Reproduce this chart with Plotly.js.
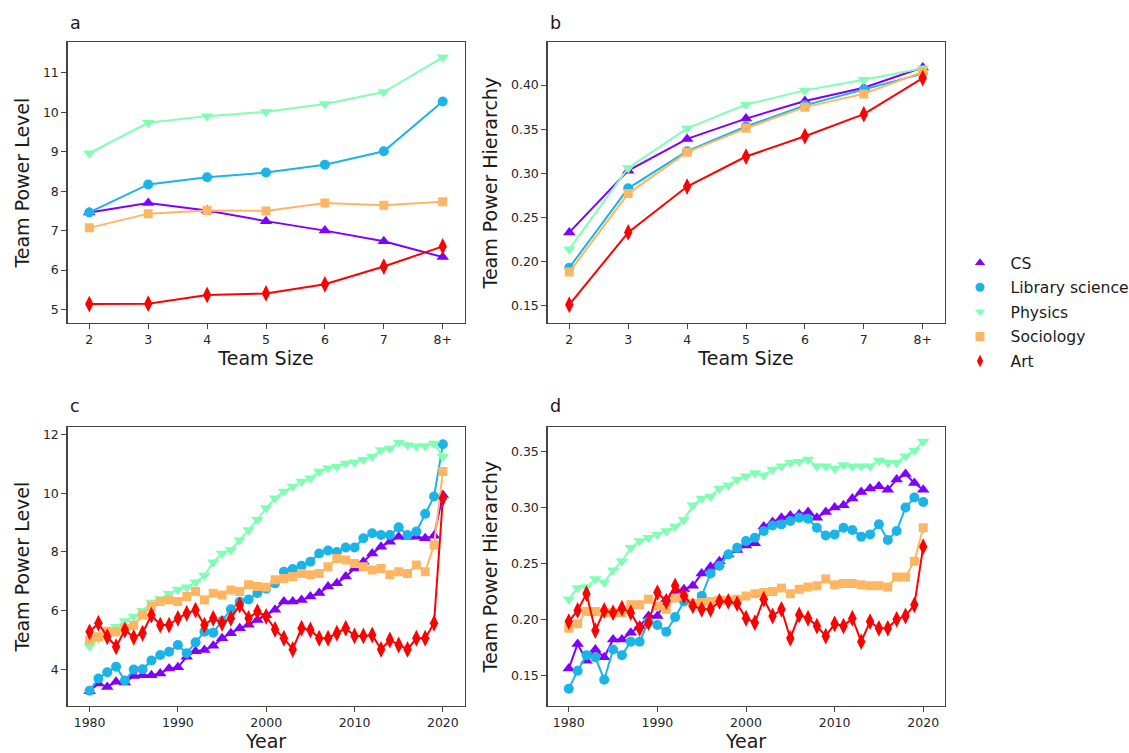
<!DOCTYPE html>
<html>
<head>
<meta charset="utf-8">
<script src="https://cdn.plot.ly/plotly-3.0.1.min.js"></script>
<style>html,body{margin:0;padding:0;background:#fff;}#chart{width:1129px;height:753px;}</style>
</head>
<body>
<div id="chart"></div>
<script>
// ---------- data ----------
var seriesNames = ['CS', 'Library science', 'Physics', 'Sociology', 'Art'];
var teamSizes = ['2', '3', '4', '5', '6', '7', '8+'];
var years = [1980,1981,1982,1983,1984,1985,1986,1987,1988,1989,1990,1991,1992,1993,1994,1995,1996,1997,1998,1999,2000,
             2001,2002,2003,2004,2005,2006,2007,2008,2009,2010,2011,2012,2013,2014,2015,2016,2017,2018,2019,2020];
var yearTicks = [1980, 1990, 2000, 2010, 2020];

// panel a: Team Power Level vs team size
var aCS  = [7.46, 7.70, 7.51, 7.24, 7.00, 6.73, 6.33];
var aLIB = [7.46, 8.17, 8.35, 8.47, 8.67, 9.01, 10.27];
var aPHY = [8.96, 9.73, 9.90, 10.01, 10.21, 10.51, 11.39];
var aSOC = [7.07, 7.43, 7.51, 7.50, 7.70, 7.64, 7.73];
var aART = [5.14, 5.15, 5.37, 5.41, 5.64, 6.09, 6.60];

// panel b: Team Power Hierarchy vs team size
var bCS  = [0.233, 0.303, 0.339, 0.362, 0.382, 0.397, 0.420];
var bLIB = [0.193, 0.283, 0.325, 0.353, 0.377, 0.395, 0.413];
var bPHY = [0.214, 0.306, 0.351, 0.378, 0.394, 0.406, 0.419];
var bSOC = [0.188, 0.277, 0.324, 0.351, 0.375, 0.390, 0.415];
var bART = [0.151, 0.233, 0.285, 0.319, 0.342, 0.367, 0.408];

// panel c: Team Power Level vs year
var cCS  = [3.25,3.52,3.40,3.58,3.55,3.77,3.80,3.80,3.86,4.03,4.07,4.43,4.62,4.66,4.80,5.06,5.23,5.40,5.52,5.68,5.85,
            6.03,6.31,6.31,6.36,6.48,6.60,6.82,6.93,7.16,7.44,7.67,7.95,8.18,8.35,8.52,8.52,8.52,8.47,8.55,9.94];
var cLIB = [3.27,3.69,3.90,4.09,3.62,3.99,4.00,4.30,4.49,4.60,4.83,4.55,4.92,5.28,5.25,5.65,6.05,6.30,6.38,6.60,6.75,
            6.93,7.33,7.42,7.53,7.67,7.95,8.05,8.00,8.15,8.15,8.47,8.64,8.58,8.58,8.84,8.58,8.70,9.30,9.89,11.67];
var cPHY = [4.78,5.05,5.22,5.45,5.65,5.80,6.00,6.28,6.40,6.58,6.72,6.80,6.97,7.20,7.65,7.95,8.07,8.40,8.75,9.10,9.50,
            9.83,10.06,10.23,10.40,10.51,10.74,10.85,10.91,11.02,11.06,11.14,11.25,11.48,11.53,11.73,11.65,11.60,11.61,11.70,11.25];
var cSOC = [5.00,5.11,5.30,5.28,5.40,5.50,5.85,6.14,6.31,6.36,6.31,6.48,6.65,6.36,6.59,6.53,6.70,6.65,6.88,6.82,6.80,
            7.05,7.10,7.16,7.27,7.22,7.27,7.50,7.78,7.73,7.61,7.50,7.39,7.44,7.22,7.33,7.27,7.56,7.33,8.24,10.74];
var cART = [5.28,5.57,5.11,4.77,5.34,5.09,5.23,5.85,5.51,5.51,5.74,5.91,6.02,5.51,5.74,5.57,5.74,6.19,5.74,5.97,5.80,
            5.36,5.06,4.68,5.40,5.34,5.06,5.06,5.23,5.40,5.14,5.14,5.17,4.68,5.00,4.83,4.68,5.06,5.06,5.57,9.83];

// panel d: Team Power Hierarchy vs year
var dCS  = [0.156,0.178,0.163,0.173,0.166,0.182,0.182,0.188,0.194,0.203,0.203,0.218,0.225,0.227,0.230,0.241,0.247,0.252,0.258,0.262,0.266,
            0.268,0.283,0.287,0.291,0.293,0.294,0.296,0.291,0.296,0.300,0.302,0.308,0.314,0.317,0.319,0.316,0.325,0.330,0.322,0.316];
var dLIB = [0.138,0.154,0.168,0.166,0.146,0.173,0.168,0.180,0.180,0.198,0.195,0.189,0.202,0.216,0.214,0.221,0.241,0.248,0.258,0.264,0.270,
            0.273,0.279,0.284,0.285,0.288,0.291,0.290,0.282,0.275,0.276,0.282,0.280,0.274,0.276,0.285,0.271,0.279,0.300,0.309,0.305];
var dPHY = [0.218,0.228,0.229,0.236,0.233,0.244,0.252,0.264,0.270,0.273,0.276,0.279,0.283,0.289,0.302,0.308,0.310,0.317,0.320,0.325,0.328,
            0.331,0.329,0.334,0.337,0.340,0.341,0.343,0.337,0.337,0.335,0.338,0.337,0.337,0.337,0.342,0.340,0.340,0.346,0.351,0.359];
var dSOC = [0.192,0.196,0.207,0.207,0.206,0.206,0.206,0.213,0.213,0.218,0.212,0.209,0.219,0.221,0.214,0.215,0.216,0.217,0.217,0.218,0.221,
            0.223,0.224,0.225,0.228,0.223,0.227,0.229,0.230,0.236,0.231,0.232,0.232,0.231,0.230,0.230,0.229,0.238,0.238,0.252,0.282];
var dART = [0.198,0.208,0.223,0.190,0.208,0.206,0.210,0.206,0.192,0.197,0.224,0.216,0.230,0.221,0.212,0.209,0.209,0.216,0.216,0.214,0.201,
            0.197,0.218,0.203,0.209,0.183,0.204,0.201,0.194,0.185,0.196,0.194,0.201,0.180,0.198,0.192,0.192,0.200,0.203,0.213,0.265];

// ---------- styles ----------
var colors  = ['#8000ff', '#1ab4e8', '#80ffb4', '#ffb562', '#ff0000'];
var symbols = ['triangle-up', 'circle', 'triangle-down', 'square', 'diamond-tall'];
var msizes  = [11, 10, 11, 9, 12];

var panels = [
  {x: teamSizes, ys: [aCS, aLIB, aPHY, aSOC, aART], xa: 'x',  ya: 'y'},
  {x: teamSizes, ys: [bCS, bLIB, bPHY, bSOC, bART], xa: 'x2', ya: 'y2'},
  {x: years,     ys: [cCS, cLIB, cPHY, cSOC, cART], xa: 'x3', ya: 'y3'},
  {x: years,     ys: [dCS, dLIB, dPHY, dSOC, dART], xa: 'x4', ya: 'y4'}
];

var traces = [];
panels.forEach(function (p) {
  p.ys.forEach(function (yv, i) {
    traces.push({
      type: 'scatter', mode: 'lines+markers', x: p.x, y: yv,
      xaxis: p.xa, yaxis: p.ya, name: seriesNames[i], showlegend: false,
      legendgroup: 'g' + i,
      line: {color: colors[i], width: 2},
      marker: {color: colors[i], symbol: symbols[i], size: msizes[i], line: {width: 0}},
      hoverinfo: 'x+y+name'
    });
  });
});
// legend entries (markers only)
seriesNames.forEach(function (n, i) {
  traces.push({
    type: 'scatter', mode: 'markers', x: [null], y: [null], xaxis: 'x', yaxis: 'y',
    name: n, showlegend: true, legendgroup: 'g' + i,
    marker: {color: colors[i], symbol: symbols[i], size: 9, line: {width: 0}}
  });
});

// ---------- layout ----------
var W = 1129, H = 753;
function px(v) { return v / W; }
function py(v) { return 1 - v / H; }

var tickFont = {family: 'DejaVu Sans', size: 12.5, color: '#262626'};
var titleFont = {family: 'DejaVu Sans', size: 19, color: '#1a1a1a'};

function axisBase() {
  return {
    showline: true, mirror: true, linecolor: '#444', linewidth: 1.2,
    ticks: 'outside', ticklen: 5, tickwidth: 1, tickcolor: '#444',
    showgrid: false, zeroline: false, tickfont: tickFont
  };
}
function mk(extra) { var o = axisBase(); for (var k in extra) o[k] = extra[k]; return o; }

var layout = {
  width: W, height: H,
  margin: {l: 0, r: 0, t: 0, b: 0, autoexpand: false},
  paper_bgcolor: '#ffffff', plot_bgcolor: '#ffffff',
  font: {family: 'DejaVu Sans'},
  showlegend: true,
  legend: {
    x: px(949.5), y: py(246), xanchor: 'left', yanchor: 'top',
    traceorder: 'grouped', tracegroupgap: 1.3, itemwidth: 51,
    font: {family: 'DejaVu Sans', size: 15.6, color: '#1a1a1a'},
    bgcolor: 'rgba(0,0,0,0)', borderwidth: 0
  },
  xaxis:  mk({domain: [px(67.5), px(464.5)], anchor: 'y', type: 'category', range: [-0.37, 6.37],
              title: {text: 'Team Size', font: titleFont, standoff: 4}}),
  yaxis:  mk({domain: [py(323), py(42.3)], anchor: 'x', range: [4.66, 11.77], dtick: 1,
              title: {text: 'Team Power Level', font: titleFont, standoff: 8}}),
  xaxis2: mk({domain: [px(547.5), px(944.5)], anchor: 'y2', type: 'category', range: [-0.37, 6.37],
              title: {text: 'Team Size', font: titleFont, standoff: 4}}),
  yaxis2: mk({domain: [py(323), py(42.3)], anchor: 'x2', range: [0.1303, 0.4485], dtick: 0.05, tick0: 0.15, tickformat: '.2f',
              title: {text: 'Team Power Hierarchy', font: titleFont, standoff: 8}}),
  xaxis3: mk({domain: [px(67.5), px(464.5)], anchor: 'y3', range: [1977.5, 2022.45], tickvals: yearTicks,
              title: {text: 'Year', font: titleFont, standoff: 4}}),
  yaxis3: mk({domain: [py(706), py(427.3)], anchor: 'x3', range: [2.75, 12.25], tickvals: [4, 6, 8, 10, 12],
              title: {text: 'Team Power Level', font: titleFont, standoff: 8}}),
  xaxis4: mk({domain: [px(547.5), px(944.5)], anchor: 'y4', range: [1977.6, 2022.4], tickvals: yearTicks,
              title: {text: 'Year', font: titleFont, standoff: 4}}),
  yaxis4: mk({domain: [py(706), py(427.3)], anchor: 'x4', range: [0.1225, 0.3718], tickvals: [0.15, 0.20, 0.25, 0.30, 0.35], tickformat: '.2f',
              title: {text: 'Team Power Hierarchy', font: titleFont, standoff: 8}}),
  annotations: [
    {text: 'a', x: px(68), y: py(23), xref: 'paper', yref: 'paper', xanchor: 'left', yanchor: 'middle', showarrow: false, font: {family: 'DejaVu Sans', size: 17.5, color: '#1a1a1a'}},
    {text: 'b', x: px(548), y: py(23), xref: 'paper', yref: 'paper', xanchor: 'left', yanchor: 'middle', showarrow: false, font: {family: 'DejaVu Sans', size: 17.5, color: '#1a1a1a'}},
    {text: 'c', x: px(68), y: py(406), xref: 'paper', yref: 'paper', xanchor: 'left', yanchor: 'middle', showarrow: false, font: {family: 'DejaVu Sans', size: 17.5, color: '#1a1a1a'}},
    {text: 'd', x: px(548), y: py(406), xref: 'paper', yref: 'paper', xanchor: 'left', yanchor: 'middle', showarrow: false, font: {family: 'DejaVu Sans', size: 17.5, color: '#1a1a1a'}}
  ]
};

Plotly.newPlot('chart', traces, layout, {displayModeBar: false, staticPlot: true});
</script>
</body>
</html>
